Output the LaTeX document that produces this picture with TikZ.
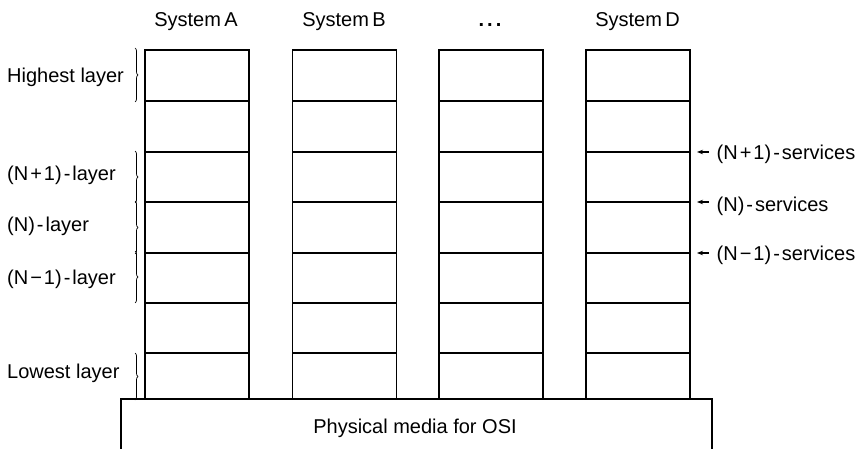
\documentclass[tikz,border=0pt]{standalone}
\usepackage{fontspec}
\setmainfont{Liberation Sans}
\usetikzlibrary{arrows.meta,decorations.pathreplacing}
\newcommand{\gp}{\kern2pt}
\begin{document}
\begin{tikzpicture}[x=1pt,y=-1pt,
  every node/.style={font=\fontsize{20}{23}\selectfont},
  cell/.style={draw,line width=1.6pt,rectangle,minimum width=104pt,inner sep=0pt,outer sep=0pt,anchor=north west},
  lbl/.style={anchor=base west,inner sep=0pt},
  head/.style={anchor=base,inner sep=0pt},
  layerbrace/.style={decorate,decoration={brace,amplitude=3pt},line width=0.7pt},
  svcarrow/.style={-{Stealth[length=6pt,width=4.5pt]},line width=1.1pt},
  media/.style={line width=1.6pt}]
\useasboundingbox (0,0) rectangle (862,449);

% protocol stacks, one column per system
\foreach \c/\x in {A/145,B/292.5,C/439,D/586}{
  \foreach \i/\t/\b in {1/50/101,2/101/152,3/152/202,4/202/253,5/253/303,6/303/353,7/353/399}{
    \node[cell,minimum height={(\b-\t)*1pt}] (\c\i) at (\x,\t) {};
  }
}

% column headings
\node[head] (hA) at (196,27) {System\,A};
\node[head] (hB) at (344,27) {System\,B};
\node[head] (hC) at (490,27) {\textbf{.\kern3pt.\kern3pt.}};
\node[head] (hD) at (637.5,27) {System\,D};

% layer names with their braces
\node[lbl] (lHigh) at (7,83) {Highest layer};
\node[lbl] (lNp) at (7,181) {(N\gp+\gp1)\gp-\gp layer};
\node[lbl] (lN) at (7,231.5) {(N)\gp-\gp layer};
\node[lbl] (lNm) at (7,284) {(N\gp−\gp1)\gp-\gp layer};
\node[lbl] (lLow) at (7,378) {Lowest layer};

\draw[layerbrace] ([shift={(-10pt,2pt)}]A1.north west) -- ([shift={(-10pt,-1pt)}]A1.south west);
\draw[layerbrace] ([shift={(-10pt,1pt)}]A3.north west) -- ([shift={(-10pt,-1pt)}]A3.south west);
\draw[layerbrace] ([shift={(-10pt,1pt)}]A4.north west) -- ([shift={(-10pt,-1pt)}]A4.south west);
\draw[layerbrace] ([shift={(-10pt,2pt)}]A5.north west) -- ([shift={(-10pt,0pt)}]A5.south west);
\draw[layerbrace] ([shift={(-10pt,0pt)}]A7.north west) -- ([shift={(-10pt,-1pt)}]A7.south west);

% service boundaries
\node[lbl] (sNp) at (716.5,159.5) {(N\gp+\gp1)\gp-\gp services};
\node[lbl] (sN) at (716.5,211.5) {(N)\gp-\gp services};
\node[lbl] (sNm) at (716.5,260.5) {(N\gp−\gp1)\gp-\gp services};

\draw[svcarrow] ([xshift=-8pt]sNp.west |- D3.north east) -- ([xshift=7pt]D3.north east);
\draw[svcarrow] ([xshift=-8pt]sN.west |- D4.north east) -- ([xshift=7pt]D4.north east);
\draw[svcarrow] ([xshift=-8pt]sNm.west |- D5.north east) -- ([xshift=7pt]D5.north east);

% physical media underneath all systems
\node[inner sep=0pt] (phys) at (415,428) {Physical media for OSI};
\draw[media] (121,455) -- (121,399) -- (712,399) -- (712,455);
\end{tikzpicture}
\end{document}
